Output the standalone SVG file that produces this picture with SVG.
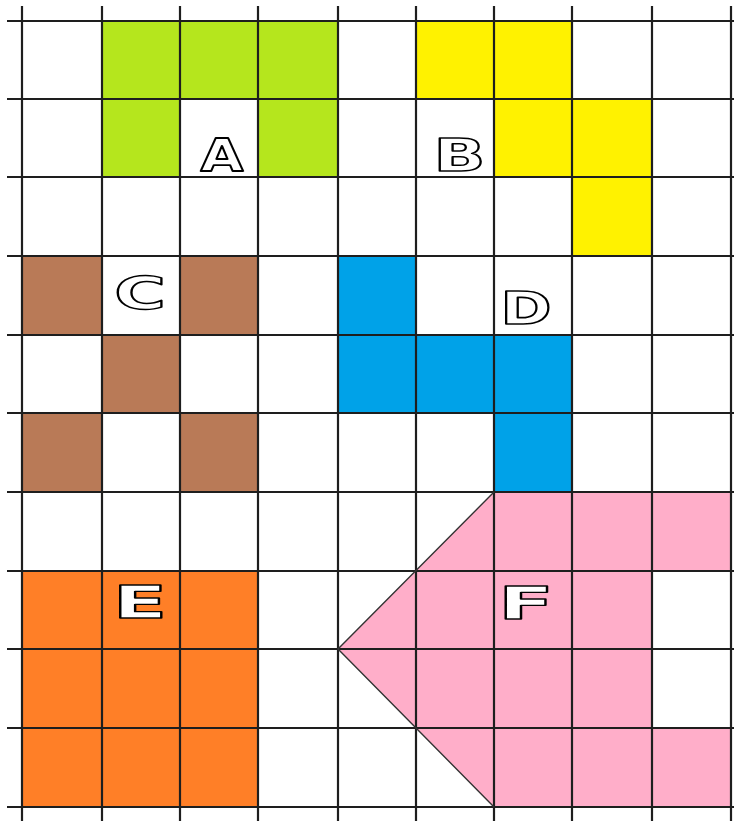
<svg xmlns="http://www.w3.org/2000/svg" width="734" height="821" viewBox="0 0 734 821">
<style>
.g{fill:#b5e61d}.y{fill:#fff200}.br{fill:#b97a57}.bl{fill:#00a2e8}.o{fill:#ff7f27}.p{fill:#ffaec9}
.grid line{stroke:#1e1e1e;stroke-width:2.2}
.diag{stroke:#333;stroke-width:1.4;fill:none}
.lbl{font-family:"DejaVu Sans","Liberation Sans",sans-serif;font-weight:bold;font-size:44px;fill:#fff;stroke:#000;stroke-width:2;stroke-linejoin:round;text-anchor:middle;vector-effect:non-scaling-stroke}
</style>
<rect width="734" height="821" fill="#fff"/>
<g id="shapeA">
<rect class="g" x="102" y="21" width="236" height="78"/>
<rect class="g" x="102" y="99" width="78" height="78"/>
<rect class="g" x="258" y="99" width="80" height="78"/>
</g>
<g id="shapeB">
<rect class="y" x="416" y="21" width="156" height="78"/>
<rect class="y" x="494" y="99" width="158" height="78"/>
<rect class="y" x="572" y="177" width="80" height="79"/>
</g>
<g id="shapeC">
<rect class="br" x="22" y="256" width="80" height="79"/>
<rect class="br" x="180" y="256" width="78" height="79"/>
<rect class="br" x="102" y="335" width="78" height="78"/>
<rect class="br" x="22" y="413" width="80" height="79"/>
<rect class="br" x="180" y="413" width="78" height="79"/>
</g>
<g id="shapeD">
<rect class="bl" x="338" y="256" width="78" height="79"/>
<rect class="bl" x="338" y="335" width="234" height="78"/>
<rect class="bl" x="494" y="413" width="78" height="79"/>
</g>
<g id="shapeE">
<rect class="o" x="22" y="571" width="236" height="236"/>
</g>
<g id="shapeF">
<polygon class="p" points="494,492 731,492 731,571 652,571 652,728 731,728 731,807 494,807 338,649"/>
</g>
<g id="connectors" class="grid">
<line x1="22" y1="6" x2="22" y2="821"/>
<line x1="102" y1="6" x2="102" y2="821"/>
<line x1="180" y1="6" x2="180" y2="821"/>
<line x1="258" y1="6" x2="258" y2="821"/>
<line x1="338" y1="6" x2="338" y2="821"/>
<line x1="416" y1="6" x2="416" y2="821"/>
<line x1="494" y1="6" x2="494" y2="821"/>
<line x1="572" y1="6" x2="572" y2="821"/>
<line x1="652" y1="6" x2="652" y2="821"/>
<line x1="731" y1="6" x2="731" y2="821"/>
<line x1="7" y1="21" x2="734" y2="21"/>
<line x1="7" y1="99" x2="734" y2="99"/>
<line x1="7" y1="177" x2="734" y2="177"/>
<line x1="7" y1="256" x2="734" y2="256"/>
<line x1="7" y1="335" x2="734" y2="335"/>
<line x1="7" y1="413" x2="734" y2="413"/>
<line x1="7" y1="492" x2="734" y2="492"/>
<line x1="7" y1="571" x2="734" y2="571"/>
<line x1="7" y1="649" x2="734" y2="649"/>
<line x1="7" y1="728" x2="734" y2="728"/>
<line x1="7" y1="807" x2="734" y2="807"/>
<polyline class="diag" points="494,492 338,649 494,807"/>
</g>
<g id="labels">
<text class="lbl" transform="translate(222 171) scale(1.26 1)">A</text>
<text class="lbl" transform="translate(459.5 171) scale(1.55 1)">B</text>
<text class="lbl" transform="translate(140 309) scale(1.6 1)">C</text>
<text class="lbl" transform="translate(526 324) scale(1.4 1)">D</text>
<text class="lbl" transform="translate(140 618) scale(1.8 1)">E</text>
<text class="lbl" transform="translate(526 618.5) scale(1.85 1)">F</text>
</g>
</svg>
